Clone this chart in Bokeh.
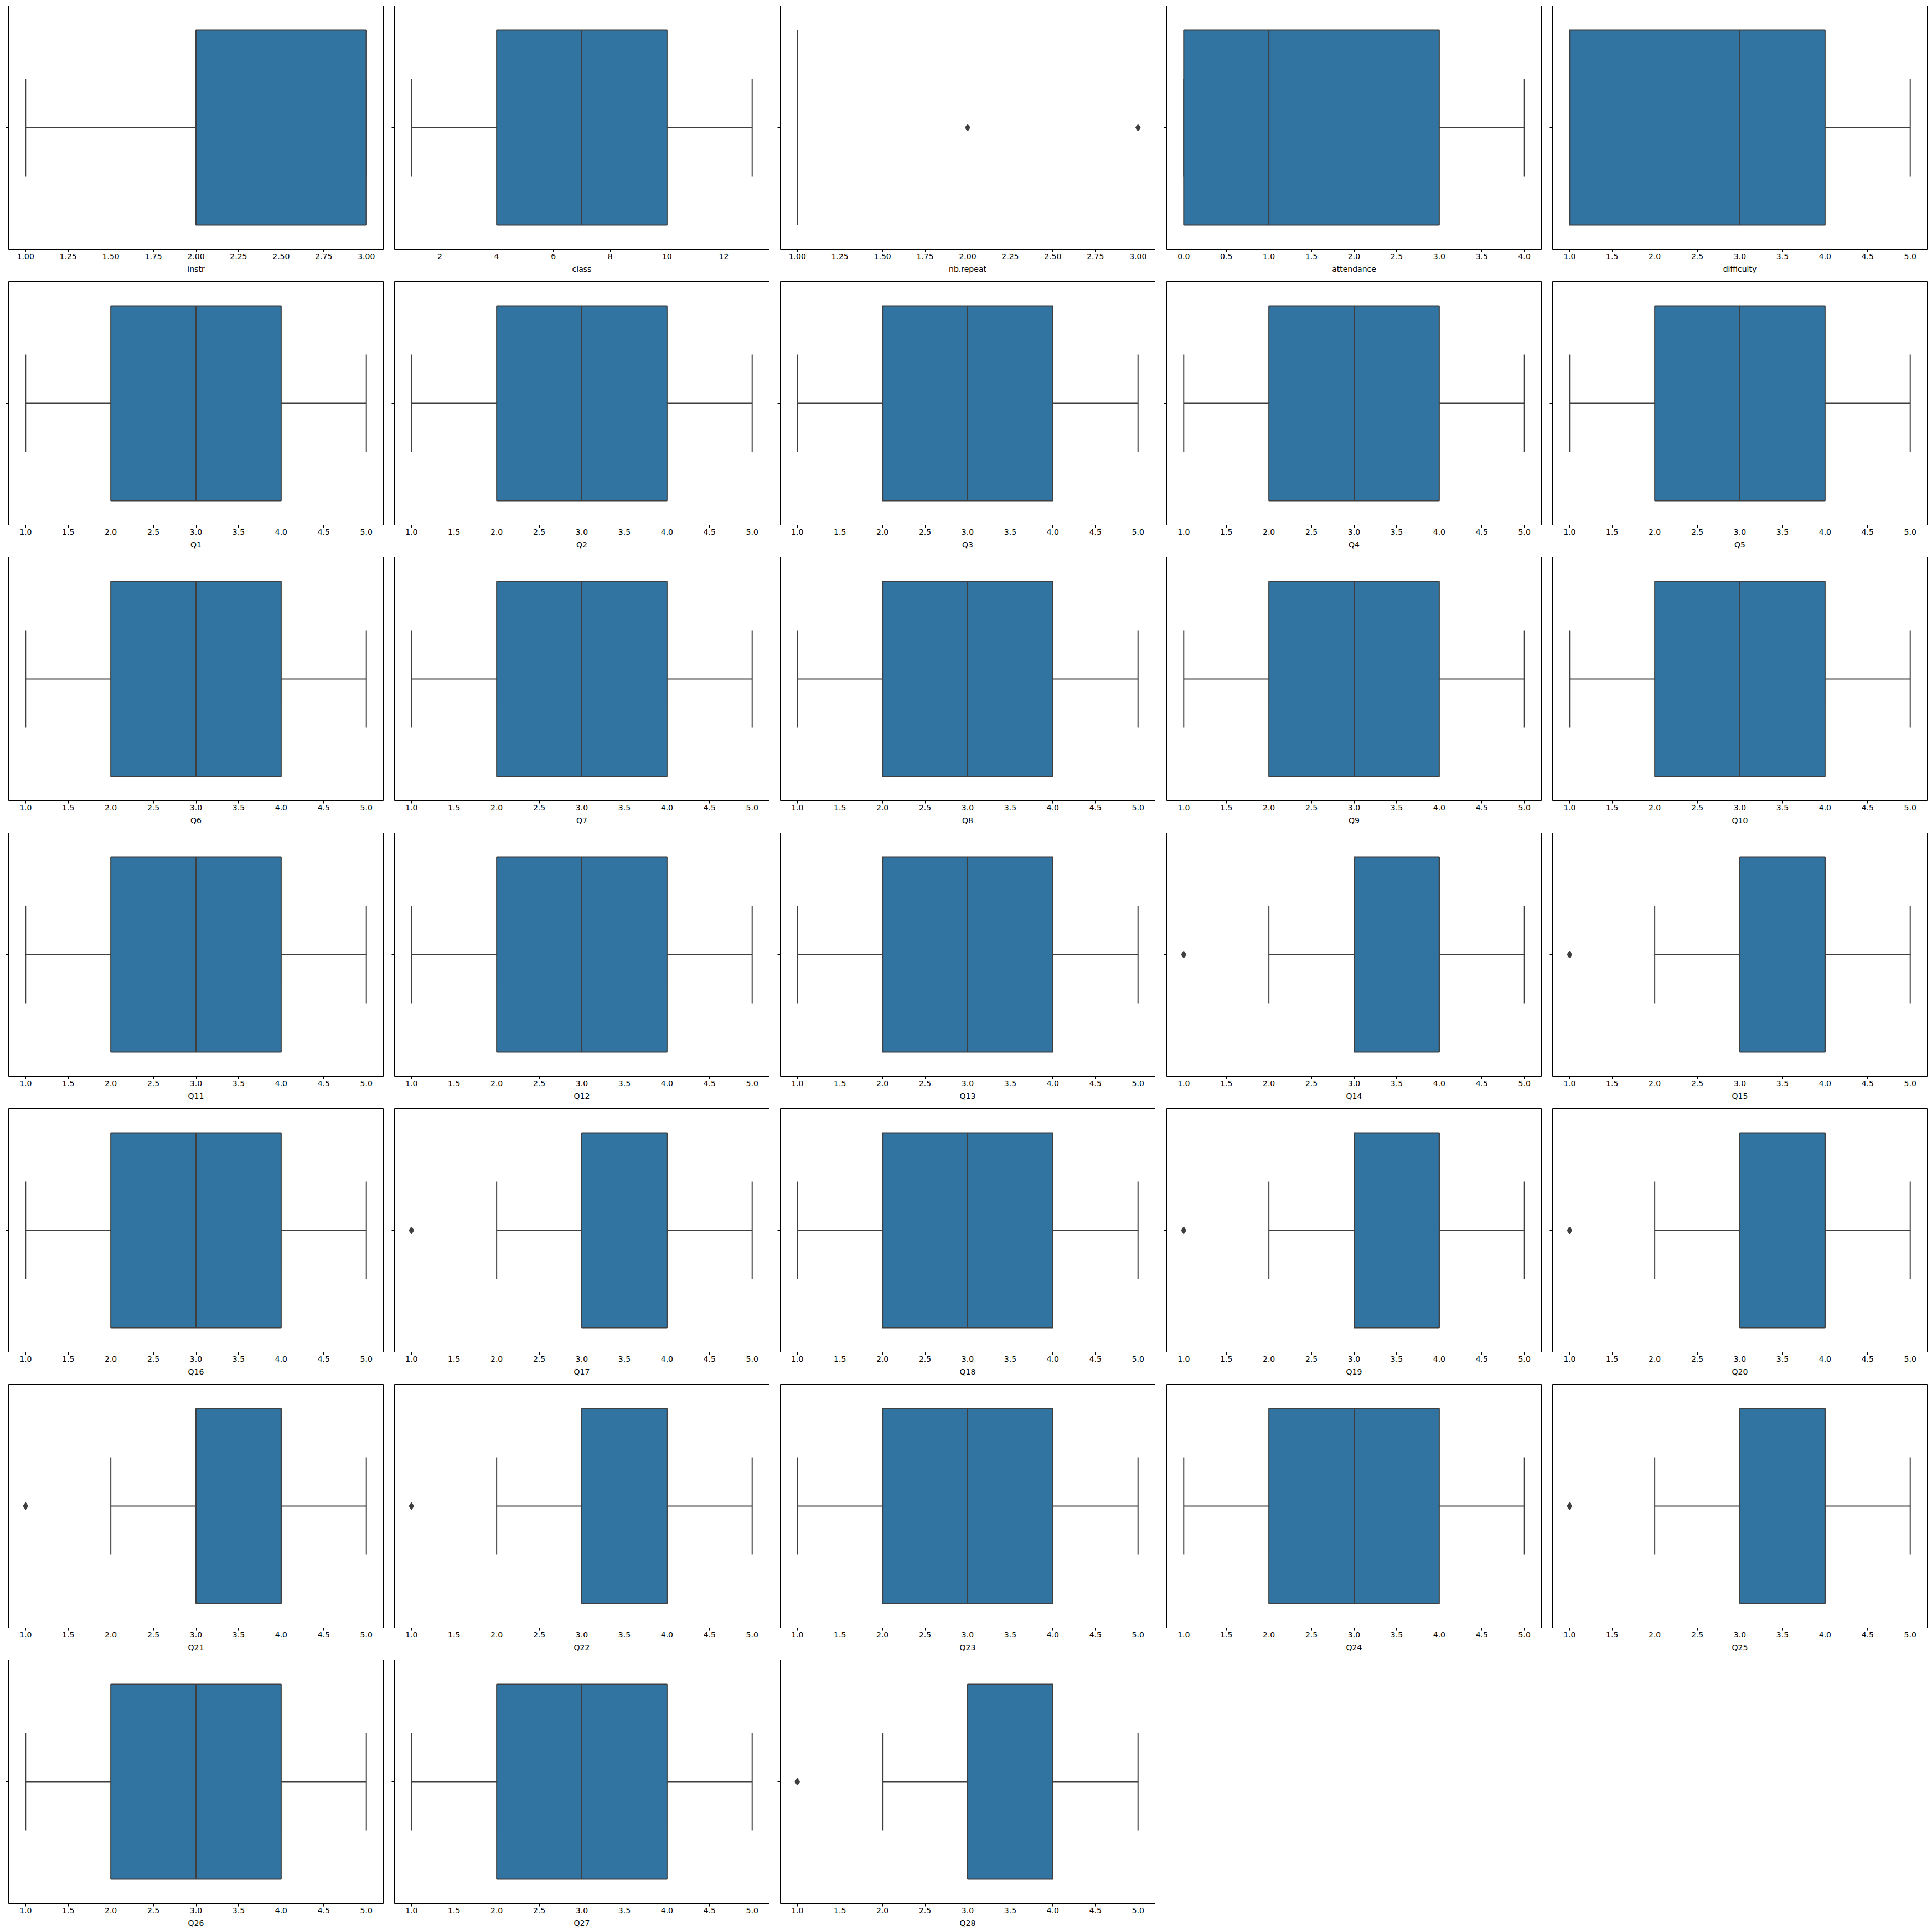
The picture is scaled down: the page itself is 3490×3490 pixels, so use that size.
from bokeh.plotting import figure
from bokeh.layouts import gridplot
from bokeh.models import Range1d, FixedTicker, NumeralTickFormatter, ColumnDataSource
from bokeh.embed import file_html
from bokeh.resources import INLINE

# ---------------- data ----------------
COLUMNS = ["instr", "class", "nb.repeat", "attendance", "difficulty"] + [f"Q{i}" for i in range(1, 29)]

WHISKER_LOW = [1, 1, 1, 0, 1,
               1, 1, 1, 1, 1, 1, 1, 1, 1, 1, 1, 1, 1, 2, 2,
               1, 2, 1, 2, 2, 2, 2, 1, 1, 2, 1, 1, 2]
Q1_VALUES = [2, 4, 1, 0, 1,
             2, 2, 2, 2, 2, 2, 2, 2, 2, 2, 2, 2, 2, 3, 3,
             2, 3, 2, 3, 3, 3, 3, 2, 2, 3, 2, 2, 3]
MEDIANS = [3, 7, 1, 1, 3,
           3, 3, 3, 3, 3, 3, 3, 3, 3, 3, 3, 3, 3, 4, 4,
           3, 4, 3, 4, 4, 4, 4, 3, 3, 4, 3, 3, 4]
Q3_VALUES = [3, 10, 1, 3, 4,
             4, 4, 4, 4, 4, 4, 4, 4, 4, 4, 4, 4, 4, 4, 4,
             4, 4, 4, 4, 4, 4, 4, 4, 4, 4, 4, 4, 4]
WHISKER_HIGH = [3, 13, 1, 4, 5,
                5, 5, 5, 5, 5, 5, 5, 5, 5, 5, 5, 5, 5, 5, 5,
                5, 5, 5, 5, 5, 5, 5, 5, 5, 5, 5, 5, 5]
OUTLIERS = [[], [], [2, 3], [], [],
            [], [], [], [], [], [], [], [], [], [], [], [], [], [1], [1],
            [], [1], [], [1], [1], [1], [1], [], [], [1], [], [], [1]]

TICKS_QUARTER = [1.0, 1.25, 1.5, 1.75, 2.0, 2.25, 2.5, 2.75, 3.0]
TICKS_CLASS = [2, 4, 6, 8, 10, 12]
TICKS_ATTEND = [0.0, 0.5, 1.0, 1.5, 2.0, 2.5, 3.0, 3.5, 4.0]
TICKS_SCALE = [1.0, 1.5, 2.0, 2.5, 3.0, 3.5, 4.0, 4.5, 5.0]
TICK_SETS = {"instr": (TICKS_QUARTER, "0.00"), "class": (TICKS_CLASS, "0"),
             "nb.repeat": (TICKS_QUARTER, "0.00"), "attendance": (TICKS_ATTEND, "0.0")}

# ---------------- style ----------------
BOX_FILL = "#3274a1"
LINE_GRAY = "#3f3f3f"
FONT = "DejaVu Sans"
NCOLS = 5
CELL_W = [697, 697, 698, 697, 698]
CELL_H = 498
FRAME_W = 677
BORDER_L, BORDER_T, BORDER_B = 15, 10, 48
BOX_HALF = 0.4
CAP_HALF = 0.2

grid = []
row = []
for i, name in enumerate(COLUMNS):
    c = i % NCOLS
    w = CELL_W[c]
    lo, q1, med, q3, hi = WHISKER_LOW[i], Q1_VALUES[i], MEDIANS[i], Q3_VALUES[i], WHISKER_HIGH[i]
    outs = OUTLIERS[i]
    vmin = min([lo] + outs)
    vmax = max([hi] + outs)
    pad = (vmax - vmin) * 0.05
    p = figure(width=w, height=CELL_H, output_backend="svg", toolbar_location=None, tools="",
               x_range=Range1d(vmin - pad, vmax + pad), y_range=Range1d(0.5, -0.5),
               min_border_left=BORDER_L, min_border_right=w - BORDER_L - FRAME_W,
               min_border_top=BORDER_T, min_border_bottom=BORDER_B)
    p.xgrid.visible = False
    p.ygrid.visible = False
    p.outline_line_color = "black"
    p.outline_line_width = 1
    p.outline_line_alpha = 1.0
    p.background_fill_color = "white"
    p.border_fill_color = "white"

    # whiskers
    wsrc = ColumnDataSource(dict(x0=[lo, q3], x1=[q1, hi], y0=[0, 0], y1=[0, 0]))
    p.segment(x0="x0", x1="x1", y0="y0", y1="y1", source=wsrc, line_color=LINE_GRAY, line_width=2)
    # caps
    csrc = ColumnDataSource(dict(x0=[lo, hi], x1=[lo, hi], y0=[-CAP_HALF, -CAP_HALF], y1=[CAP_HALF, CAP_HALF]))
    p.segment(x0="x0", x1="x1", y0="y0", y1="y1", source=csrc, line_color=LINE_GRAY, line_width=2)
    # box
    bsrc = ColumnDataSource(dict(left=[q1], right=[q3], bottom=[-BOX_HALF], top=[BOX_HALF]))
    p.quad(left="left", right="right", bottom="bottom", top="top", source=bsrc,
           fill_color=BOX_FILL, line_color=LINE_GRAY, line_width=2)
    # median
    msrc = ColumnDataSource(dict(x0=[med], x1=[med], y0=[-BOX_HALF], y1=[BOX_HALF]))
    p.segment(x0="x0", x1="x1", y0="y0", y1="y1", source=msrc, line_color=LINE_GRAY, line_width=2)
    # outliers
    if outs:
        osrc = ColumnDataSource(dict(x=outs, y=[0] * len(outs)))
        p.scatter(x="x", y="y", source=osrc, marker="diamond", size=12,
                  fill_color=LINE_GRAY, line_color=LINE_GRAY, line_width=1.5)

    ticks, fmt = TICK_SETS.get(name, (TICKS_SCALE, "0.0"))
    xa = p.xaxis[0]
    xa.ticker = FixedTicker(ticks=ticks)
    xa.formatter = NumeralTickFormatter(format=fmt)
    xa.axis_label = name
    xa.axis_label_text_font = FONT
    xa.axis_label_text_font_size = "14px"
    xa.axis_label_text_font_style = "normal"
    xa.axis_label_text_color = "black"
    xa.axis_label_standoff = 7
    xa.major_label_text_font = FONT
    xa.major_label_text_font_size = "14px"
    xa.major_label_text_color = "black"
    xa.major_label_standoff = 2
    xa.major_tick_in = 0
    xa.major_tick_out = 5
    xa.major_tick_line_color = "black"
    xa.minor_tick_in = 0
    xa.minor_tick_out = 0
    xa.axis_line_color = None

    ya = p.yaxis[0]
    ya.ticker = FixedTicker(ticks=[0])
    ya.major_label_overrides = {0: ""}
    ya.major_label_standoff = 0
    ya.major_tick_in = 0
    ya.major_tick_out = 5
    ya.major_tick_line_color = "black"
    ya.minor_tick_in = 0
    ya.minor_tick_out = 0
    ya.axis_line_color = None

    row.append(p)
    if len(row) == NCOLS:
        grid.append(row)
        row = []
if row:
    while len(row) < NCOLS:
        row.append(None)
    grid.append(row)

layout = gridplot(grid, toolbar_location=None)
open("out.html", "w").write(file_html(layout, INLINE))
